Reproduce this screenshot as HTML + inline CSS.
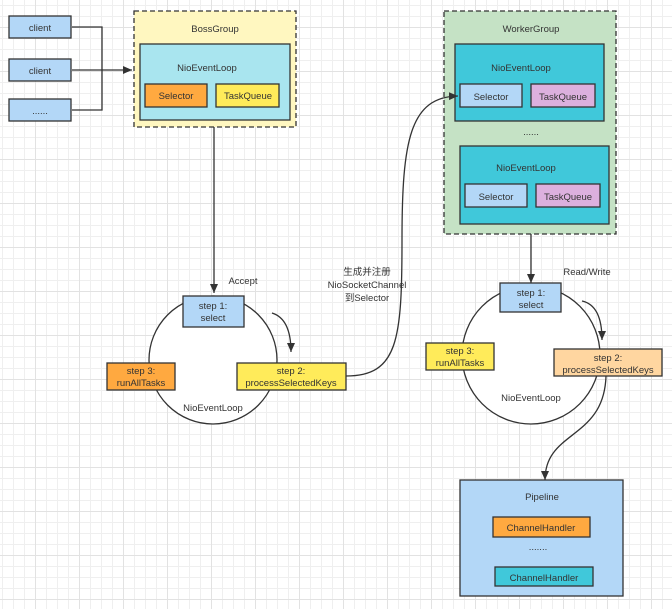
<!DOCTYPE html>
<html><head><meta charset="utf-8"><style>
html,body{margin:0;padding:0;background:#fff}
svg{display:block}
text{font-family:"Liberation Sans","Noto Sans CJK SC",sans-serif;font-size:9.5px;fill:#333;text-anchor:middle}
</style></head><body>
<svg width="672" height="609" viewBox="0 0 672 609" xmlns="http://www.w3.org/2000/svg">
<defs>
<pattern id="g" x="2" y="5" width="11" height="11" patternUnits="userSpaceOnUse"><path d="M0.5 0V11M0 0.5H11" stroke="#efefef" stroke-width="1" fill="none"/></pattern>
<pattern id="G" x="35" y="27" width="44" height="44" patternUnits="userSpaceOnUse"><path d="M0.5 0V44M0 0.5H44" stroke="#e2e2e2" stroke-width="1" fill="none"/></pattern>
<marker id="a" markerWidth="10" markerHeight="10" refX="9" refY="5" orient="auto" markerUnits="userSpaceOnUse"><path d="M0,1 L9,5 L0,9 Z" fill="#333"/></marker>
</defs>
<rect width="672" height="609" fill="url(#g)"/>
<rect width="672" height="609" fill="url(#G)"/>
<g stroke="#333" stroke-width="1.3">
<rect x="9" y="16" width="62" height="22" fill="#b3d7f7"/>
<rect x="9" y="59" width="62" height="22" fill="#b3d7f7"/>
<rect x="9" y="99" width="62" height="22" fill="#b3d7f7"/>
<path d="M72 27H102V110H72" fill="none"/>
<path d="M72 70H132" fill="none" marker-end="url(#a)"/>
<rect x="134" y="11" width="162" height="116" fill="#fff7c0" stroke-dasharray="5,3"/>
<rect x="140" y="44" width="150" height="76" fill="#a9e5ef"/>
<rect x="145" y="84" width="62" height="23" fill="#ffa940"/>
<rect x="216" y="84" width="63" height="23" fill="#ffeb5a"/>
<path d="M214 127V293" fill="none" marker-end="url(#a)"/>
<circle cx="213" cy="360" r="64" fill="#fff"/>
<rect x="183" y="296" width="61" height="31" fill="#b3d7f7"/>
<rect x="107" y="363" width="68" height="27" fill="#ffa940"/>
<rect x="237" y="363" width="109" height="27" fill="#ffeb5a"/>
<path d="M272 313C285 317 291 330 291 352" fill="none" marker-end="url(#a)"/>
<rect x="444" y="11" width="172" height="223" fill="#c5e2c5" stroke-dasharray="5,3"/>
<rect x="455" y="44" width="149" height="77" fill="#40c8da"/>
<rect x="460" y="84" width="62" height="23" fill="#b3d7f7"/>
<rect x="531" y="84" width="64" height="23" fill="#dcb0de"/>
<rect x="460" y="146" width="149" height="78" fill="#40c8da"/>
<rect x="465" y="184" width="62" height="23" fill="#b3d7f7"/>
<rect x="536" y="184" width="64" height="23" fill="#dcb0de"/>
<path d="M346 376C398 376 402 340 402 240C402 140 410 97 458 96" fill="none" marker-end="url(#a)"/>
<path d="M531 234V283" fill="none" marker-end="url(#a)"/>
<circle cx="531" cy="355" r="69" fill="#fff"/>
<rect x="500" y="283" width="61" height="29" fill="#b3d7f7"/>
<rect x="426" y="343" width="68" height="27" fill="#ffeb5a"/>
<rect x="554" y="349" width="108" height="27" fill="#ffd6a0"/>
<path d="M582 301C596 304 602 318 602 340" fill="none" marker-end="url(#a)"/>
<path d="M606 376C604 440 545 430 545 480" fill="none" marker-end="url(#a)"/>
<rect x="460" y="480" width="163" height="116" fill="#b3d7f7"/>
<rect x="493" y="517" width="97" height="20" fill="#ffa940"/>
<rect x="495" y="567" width="98" height="19" fill="#40c8da"/>
</g>
<text x="40" y="31">client</text>
<text x="40" y="74">client</text>
<text x="40" y="114">......</text>
<text x="215" y="32">BossGroup</text>
<text x="207" y="71">NioEventLoop</text>
<text x="176" y="99">Selector</text>
<text x="248" y="99">TaskQueue</text>
<text x="243" y="284">Accept</text>
<text x="213" y="309">step 1:</text>
<text x="213" y="321">select</text>
<text x="141" y="374">step 3:</text>
<text x="141" y="386">runAllTasks</text>
<text x="291" y="374">step 2:</text>
<text x="291" y="386">processSelectedKeys</text>
<text x="213" y="411">NioEventLoop</text>
<text x="367" y="275">生成并注册</text>
<text x="367" y="288">NioSocketChannel</text>
<text x="367" y="301">到Selector</text>
<text x="531" y="32">WorkerGroup</text>
<text x="521" y="71">NioEventLoop</text>
<text x="491" y="100">Selector</text>
<text x="563" y="100">TaskQueue</text>
<text x="531" y="135">......</text>
<text x="526" y="171">NioEventLoop</text>
<text x="496" y="200">Selector</text>
<text x="568" y="200">TaskQueue</text>
<text x="587" y="275">Read/Write</text>
<text x="531" y="296">step 1:</text>
<text x="531" y="308">select</text>
<text x="460" y="354">step 3:</text>
<text x="460" y="366">runAllTasks</text>
<text x="608" y="361">step 2:</text>
<text x="608" y="373">processSelectedKeys</text>
<text x="531" y="401">NioEventLoop</text>
<text x="542" y="500">Pipeline</text>
<text x="541" y="531">ChannelHandler</text>
<text x="538" y="550">.......</text>
<text x="544" y="581">ChannelHandler</text>
</svg>
</body></html>
